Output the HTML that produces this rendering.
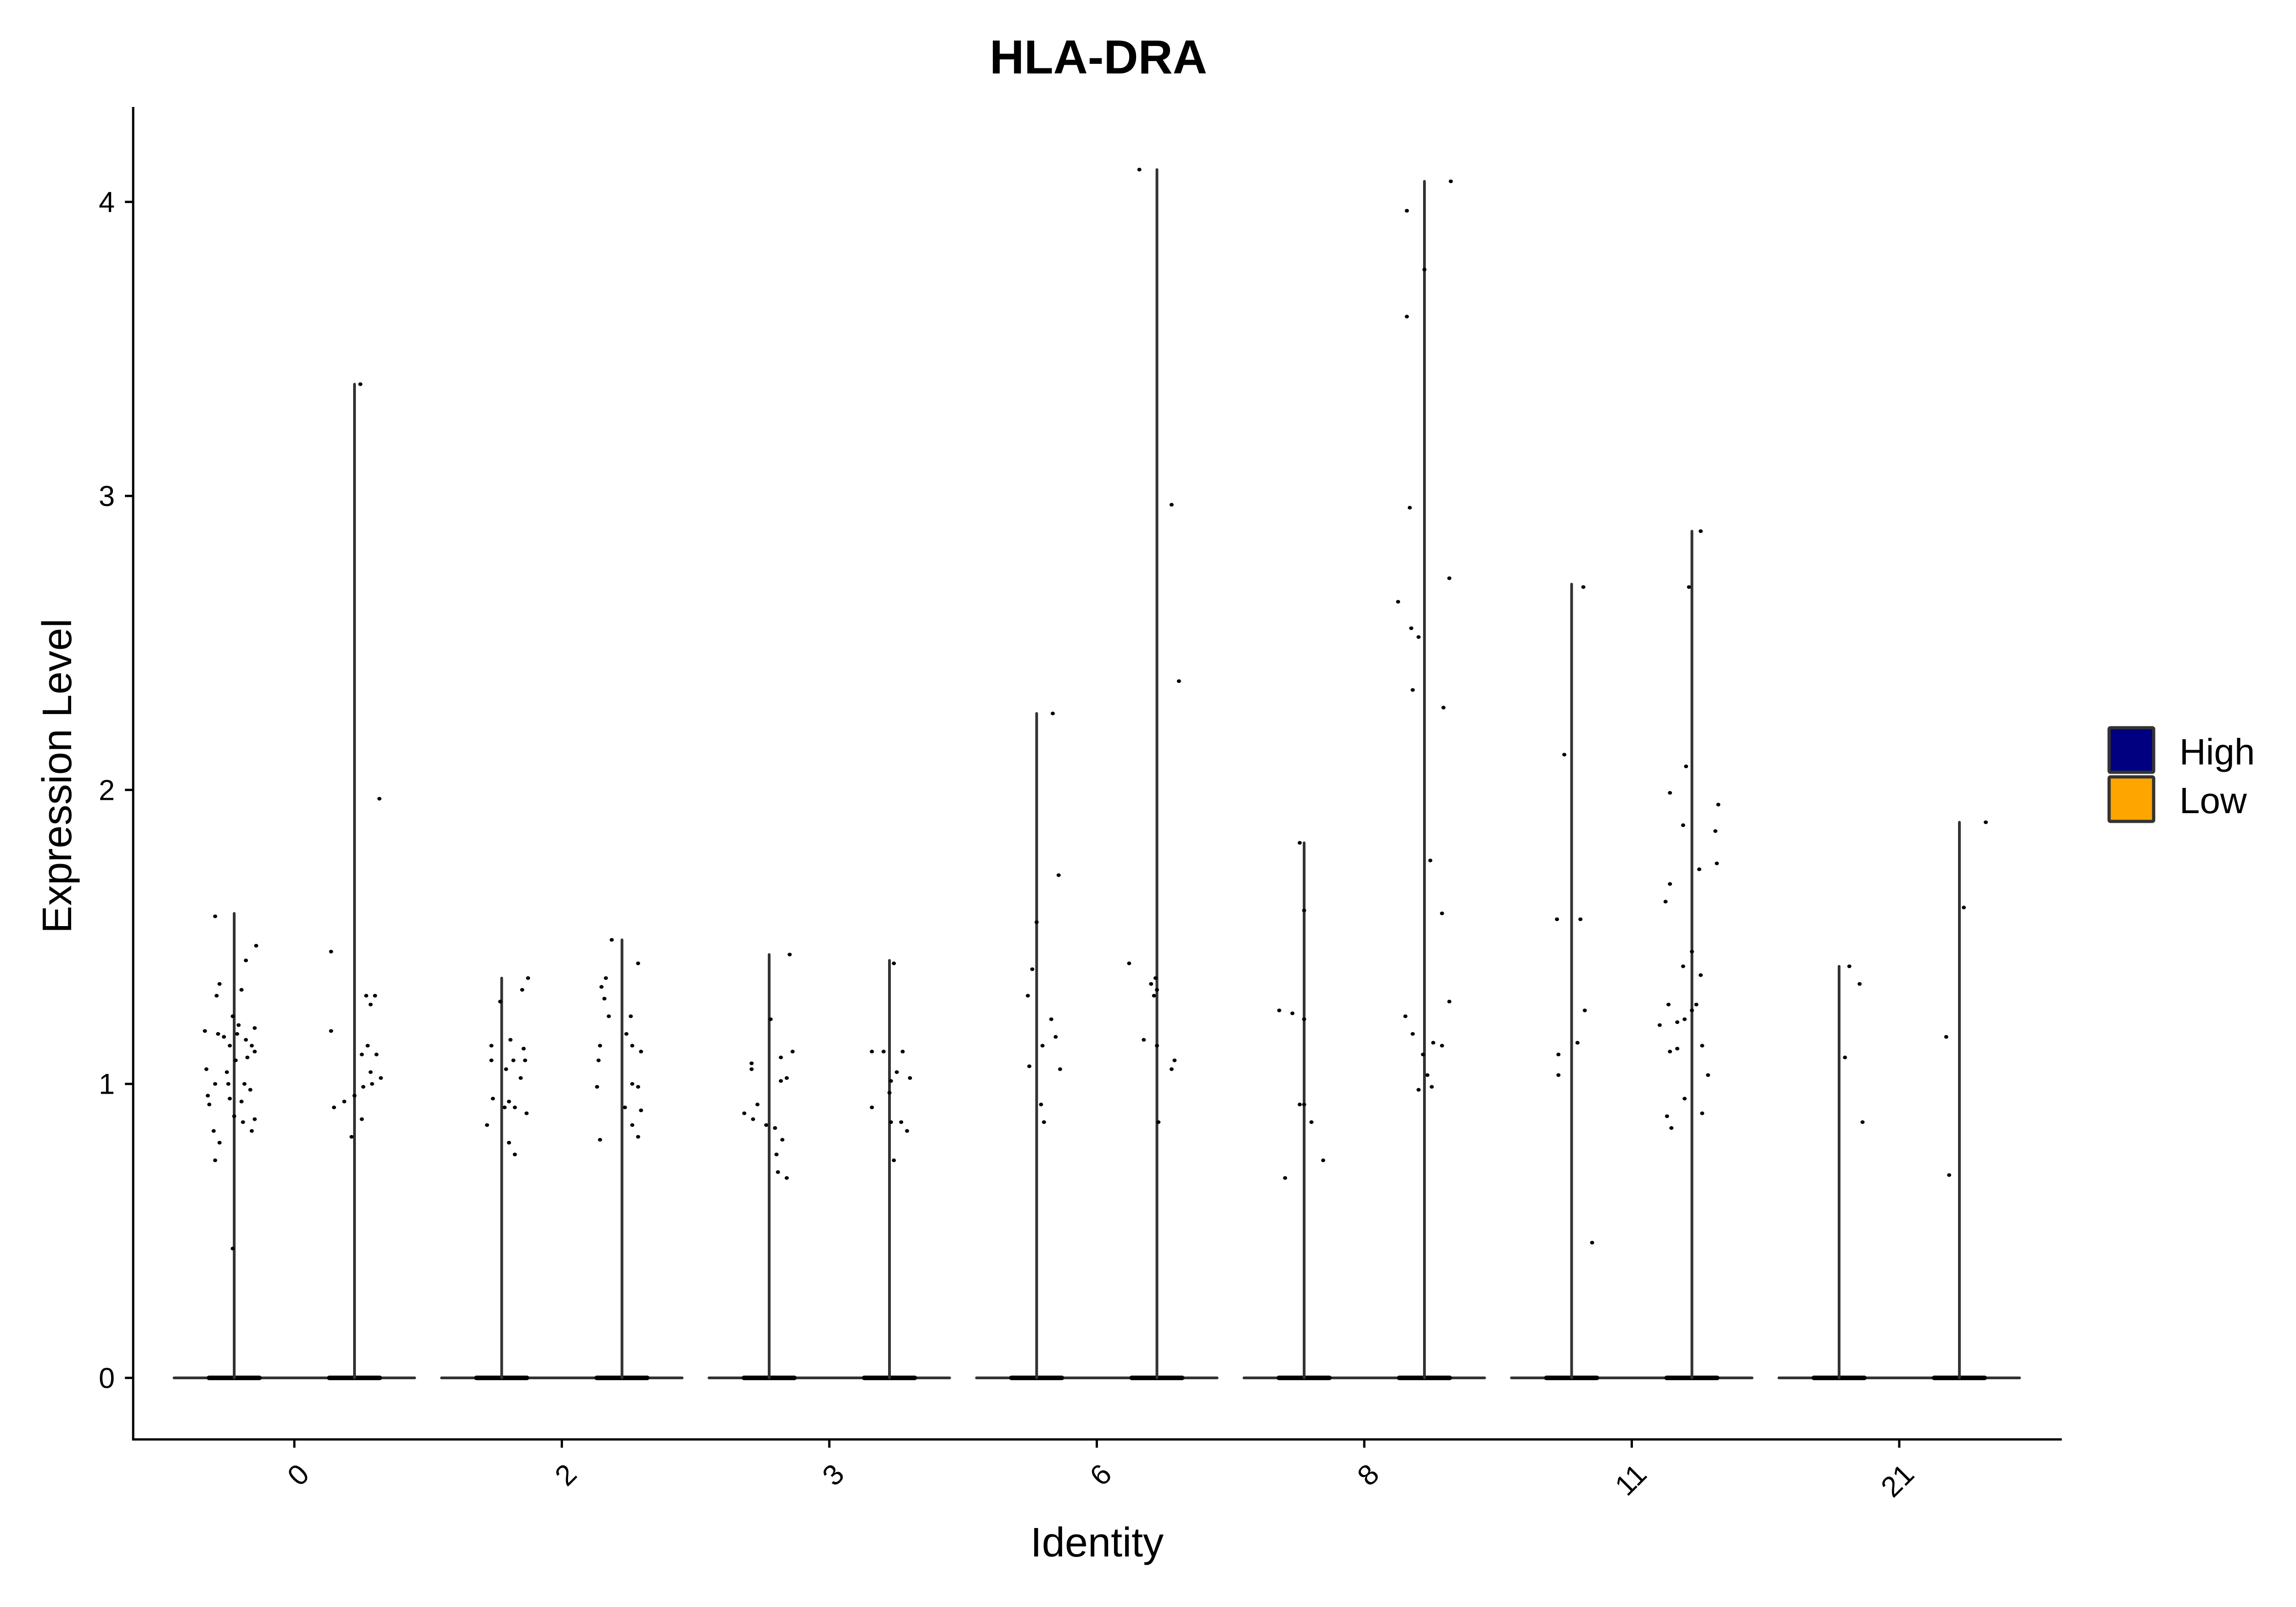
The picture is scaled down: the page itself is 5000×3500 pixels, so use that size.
<!DOCTYPE html>
<html><head><meta charset="utf-8">
<style>
html,body{margin:0;padding:0;background:#fff;}
svg{display:block;font-family:"Liberation Sans",Arial,sans-serif;}
</style></head>
<body>
<svg id="chart" width="5000" height="3500" viewBox="0 0 5000 3500" xmlns="http://www.w3.org/2000/svg">
<rect width="5000" height="3500" fill="#fff"/>
<text x="2392" y="160" font-size="104" font-weight="bold" text-anchor="middle">HLA-DRA</text>
<g id="plot"></g>
<line x1="290" y1="233" x2="290" y2="3137" stroke="#000" stroke-width="5"/>
<line x1="288" y1="3135" x2="4490" y2="3135" stroke="#000" stroke-width="5"/>
<g id="yticks"></g>
<g id="xticks"></g>
<text x="2389" y="3390" font-size="90" text-anchor="middle">Identity</text>
<text transform="translate(155,1690) rotate(-90)" font-size="90" text-anchor="middle">Expression Level</text>
<g>
  <rect x="4593" y="1585" width="97" height="97" rx="3" fill="#000080" stroke="#333" stroke-width="7"/>
  <rect x="4593" y="1692" width="97" height="97" rx="3" fill="#FFA500" stroke="#333" stroke-width="7"/>
  <text x="4746" y="1665" font-size="80">High</text>
  <text x="4746" y="1771" font-size="80">Low</text>
</g>
</svg>
<script>
const categories = ["0","2","3","6","8","11","21"];
const yTicks = [0,1,2,3,4];
const highMax = [1.58,1.36,1.44,2.26,1.82,2.70,1.40];
const lowMax  = [3.38,1.49,1.42,4.11,4.07,2.88,1.89];
const highPts = [
 [[-13,1.57],[15,1.47],[8,1.42],[-10,1.34],[5,1.32],[-12,1.30],[-1,1.23],[3,1.20],[14,1.19],[-20,1.18],[-11,1.17],[-7,1.16],[2,1.17],[8,1.15],[12,1.13],[-3,1.13],[14,1.11],[9,1.09],[1,1.08],[-19,1.05],[-5,1.04],[-13,1.00],[-4,1.00],[7,1.00],[11,0.98],[-18,0.96],[-3,0.95],[-17,0.93],[5,0.94],[0,0.89],[6,0.87],[14,0.88],[12,0.84],[-14,0.84],[-10,0.80],[-13,0.74],[-1,0.44]],
 [[-1,1.28],[18,1.36],[14,1.32],[-7,1.13],[6,1.15],[15,1.12],[8,1.08],[-7,1.08],[16,1.08],[3,1.05],[13,1.02],[-6,0.95],[5,0.94],[2,0.92],[9,0.92],[17,0.90],[-10,0.86],[5,0.80],[9,0.76]],
 [[14,1.44],[1,1.22],[16,1.11],[8,1.09],[-12,1.07],[-12,1.05],[12,1.02],[8,1.01],[-8,0.93],[-17,0.90],[-11,0.88],[-2,0.86],[4,0.85],[9,0.81],[5,0.76],[6,0.70],[12,0.68]],
 [[11,2.26],[15,1.71],[0,1.55],[-3,1.39],[-6,1.30],[10,1.22],[13,1.16],[4,1.13],[-5,1.06],[16,1.05],[3,0.93],[5,0.87]],
 [[-3,1.82],[0,1.59],[-17,1.25],[-8,1.24],[0,1.22],[-3,0.93],[0,0.93],[5,0.87],[13,0.74],[-13,0.68]],
 [[8,2.69],[-5,2.12],[-10,1.56],[6,1.56],[9,1.25],[-9,1.10],[4,1.14],[-9,1.03],[14,0.46]],
 [[7,1.40],[14,1.34],[4,1.09],[16,0.87]]
];
const lowPts = [
 [[17,1.97],[4,3.38],[-16,1.45],[8,1.30],[14,1.30],[11,1.27],[-16,1.18],[9,1.13],[15,1.10],[5,1.10],[11,1.04],[18,1.02],[12,1.00],[6,0.99],[-14,0.92],[-7,0.94],[0,0.96],[5,0.88],[-2,0.82]],
 [[-7,1.49],[11,1.41],[-11,1.36],[-14,1.33],[-12,1.29],[-9,1.23],[6,1.23],[3,1.17],[-15,1.13],[7,1.13],[13,1.11],[-16,1.08],[7,1.00],[11,0.99],[-17,0.99],[2,0.92],[13,0.91],[7,0.86],[-15,0.81],[11,0.82]],
 [[3,1.41],[-12,1.11],[-4,1.11],[9,1.11],[5,1.04],[14,1.02],[1,1.01],[0,0.97],[-12,0.92],[1,0.87],[8,0.87],[12,0.84],[3,0.74]],
 [[-12,4.11],[10,2.97],[15,2.37],[-19,1.41],[-1,1.36],[-4,1.34],[0,1.32],[-2,1.30],[-9,1.15],[0,1.13],[12,1.08],[10,1.05],[1,0.87]],
 [[18,4.07],[-12,3.97],[0,3.77],[-12,3.61],[-10,2.96],[17,2.72],[-18,2.64],[-9,2.55],[-4,2.52],[-8,2.34],[13,2.28],[4,1.76],[12,1.58],[17,1.28],[-13,1.23],[-8,1.17],[6,1.14],[12,1.13],[-1,1.10],[2,1.03],[-4,0.98],[5,0.99]],
 [[6,2.88],[-2,2.69],[-15,1.99],[-4,2.08],[18,1.95],[-6,1.88],[16,1.86],[17,1.75],[5,1.73],[-15,1.68],[-18,1.62],[0,1.45],[-6,1.40],[6,1.37],[-16,1.27],[3,1.27],[0,1.25],[-5,1.22],[-10,1.21],[-22,1.20],[-15,1.11],[-10,1.12],[7,1.13],[11,1.03],[-5,0.95],[-17,0.89],[7,0.90],[-14,0.85]],
 [[18,1.89],[3,1.60],[-9,1.16],[-7,0.69]]
];

const NS = "http://www.w3.org/2000/svg";
const y0 = 3001, yUnit = 640.3;
const xFirst = 641, xStep = 582.5, half = 131, jitterScale = 3.19;
function yScale(v){ return y0 - v*yUnit; }
function xScale(i){ return xFirst + i*xStep; }
function mk(tag, attrs, parent){
  const el = document.createElementNS(NS, tag);
  for (const k in attrs) el.setAttribute(k, attrs[k]);
  parent.appendChild(el);
  return el;
}
const plot = document.getElementById('plot');
const yt = document.getElementById('yticks');
const xt = document.getElementById('xticks');

yTicks.forEach(t => {
  const l = mk('line', {x1:272, x2:290, y1:yScale(t), y2:yScale(t), stroke:'#000', 'stroke-width':5}, yt);
  
  
  const tx = mk('text', {x:250, y:yScale(t)+22, 'font-size':63, 'text-anchor':'end'}, yt);
  tx.textContent = t;
  
  
});

categories.forEach((c, i) => {
  const cx = xScale(i);
  const l = mk('line', {x1:cx, x2:cx, y1:3135, y2:3153, stroke:'#000', 'stroke-width':5}, xt);
  
  
  const tx = mk('text', {'font-size':63, 'text-anchor':'end', transform:'translate(' + (cx+36) + ',3215) rotate(-45)'}, xt);
  tx.textContent = c;
  
  

  [[highMax, highPts, -1, 'high'], [lowMax, lowPts, 1, 'low']].forEach(s => {
    const vx = cx + s[2]*half;
    const g = mk('g', {}, plot);
    
    
    const base = mk('path', {d:'M' + (vx-half) + ',' + y0 + ' L' + (vx+half) + ',' + y0, stroke:'#333', 'stroke-width':6, 'stroke-linecap':'round', fill:'none'}, g);
    
    
    const blob = mk('rect', {x:vx-60, y:y0-5, width:120, height:10, rx:5, fill:'#000'}, g);
    
    
    const stem = mk('line', {x1:vx, x2:vx, y1:y0, y2:yScale(s[0][i]), stroke:'#333', 'stroke-width':6, 'stroke-linecap':'round'}, g);
    
    
    s[1][i].forEach(p => {
      const d = mk('ellipse', {cx: vx + p[0]*jitterScale, cy: yScale(p[1]), rx:4.5, ry:4, fill:'#000'}, g);
      
      
    });
  });
});
</script>
</body></html>
